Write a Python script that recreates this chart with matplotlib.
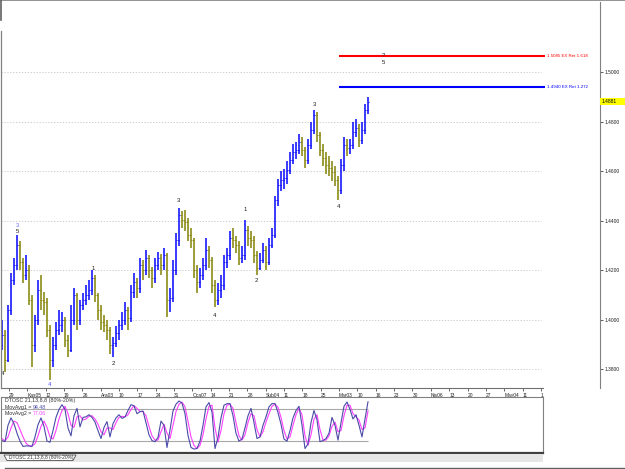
import numpy as np
import matplotlib
matplotlib.use("Agg")
import matplotlib.pyplot as plt
from matplotlib.lines import Line2D
from matplotlib.patches import Rectangle, Polygon

W, H = 625, 469

# price bars (one bar per column, open = previous close)
OPEN_FIRST = 1.3900
CLOSE = [1.3939, 1.3838, 1.4040, 1.4161, 1.4221, 1.4302, 1.4234, 1.4181, 1.4201, 1.4080,
         1.3898, 1.3999, 1.4120, 1.4080, 1.4070, 1.3959, 1.3838, 1.3898, 1.3959, 1.3979,
         1.3999, 1.3918, 1.3878, 1.3999, 1.4100, 1.3999, 1.4060, 1.4080, 1.4100, 1.4120,
         1.4169, 1.4100, 1.4040, 1.3991, 1.3979, 1.3959, 1.3898, 1.3905, 1.3947, 1.3979,
         1.3999, 1.4040, 1.4007, 1.4112, 1.4153, 1.4128, 1.4221, 1.4201, 1.4250, 1.4201,
         1.4169, 1.4221, 1.4250, 1.4221, 1.4262, 1.4080, 1.4090, 1.4201, 1.4322, 1.4423,
         1.4403, 1.4395, 1.4343, 1.4322, 1.4201, 1.4153, 1.4181, 1.4221, 1.4282, 1.4242,
         1.4141, 1.4080, 1.4120, 1.4141, 1.4234, 1.4262, 1.4330, 1.4322, 1.4302, 1.4250,
         1.4262, 1.4363, 1.4330, 1.4322, 1.4262, 1.4209, 1.4242, 1.4282, 1.4234, 1.4302,
         1.4343, 1.4484, 1.4545, 1.4565, 1.4573, 1.4605, 1.4646, 1.4678, 1.4686, 1.4718,
         1.4686, 1.4646, 1.4706, 1.4767, 1.4827, 1.4747, 1.4686, 1.4654, 1.4625, 1.4613,
         1.4597, 1.4565, 1.4524, 1.4625, 1.4706, 1.4694, 1.4706, 1.4759, 1.4775, 1.4726,
         1.4767, 1.4848, 1.4881]
HIGH = [1.3999, 1.3960, 1.4060, 1.4190, 1.4250, 1.4343, 1.4320, 1.4250, 1.4262, 1.4221,
        1.4100, 1.4020, 1.4161, 1.4181, 1.4112, 1.4090, 1.3979, 1.3930, 1.3990, 1.4040,
        1.4030, 1.4010, 1.3940, 1.4060, 1.4130, 1.4110, 1.4080, 1.4110, 1.4140, 1.4161,
        1.4201, 1.4180, 1.4110, 1.4060, 1.4020, 1.4000, 1.3970, 1.3930, 1.3975, 1.4000,
        1.4030, 1.4070, 1.4050, 1.4140, 1.4190, 1.4170, 1.4250, 1.4240, 1.4282, 1.4262,
        1.4215, 1.4250, 1.4275, 1.4265, 1.4290, 1.4270, 1.4130, 1.4240, 1.4350, 1.4452,
        1.4440, 1.4445, 1.4410, 1.4370, 1.4330, 1.4220, 1.4210, 1.4250, 1.4330, 1.4300,
        1.4255, 1.4160, 1.4150, 1.4180, 1.4262, 1.4290, 1.4360, 1.4370, 1.4340, 1.4320,
        1.4300, 1.4403, 1.4380, 1.4360, 1.4340, 1.4280, 1.4270, 1.4310, 1.4300, 1.4330,
        1.4370, 1.4500, 1.4570, 1.4600, 1.4610, 1.4640, 1.4680, 1.4710, 1.4720, 1.4750,
        1.4740, 1.4700, 1.4730, 1.4800, 1.4848, 1.4840, 1.4760, 1.4710, 1.4680, 1.4660,
        1.4640, 1.4620, 1.4580, 1.4650, 1.4740, 1.4730, 1.4730, 1.4800, 1.4810, 1.4790,
        1.4800, 1.4870, 1.4900]
LOW = [1.3878, 1.3789, 1.3830, 1.4020, 1.4140, 1.4200, 1.4200, 1.4150, 1.4160, 1.4060,
       1.3809, 1.3870, 1.3980, 1.4040, 1.4019, 1.3930, 1.3757, 1.3810, 1.3880, 1.3939,
       1.3950, 1.3890, 1.3850, 1.3870, 1.3980, 1.3960, 1.3980, 1.4040, 1.4060, 1.4080,
       1.4100, 1.4070, 1.4000, 1.3960, 1.3950, 1.3920, 1.3860, 1.3850, 1.3890, 1.3920,
       1.3960, 1.3980, 1.3960, 1.3990, 1.4090, 1.4090, 1.4110, 1.4160, 1.4180, 1.4170,
       1.4130, 1.4150, 1.4200, 1.4180, 1.4200, 1.4011, 1.4030, 1.4070, 1.4180, 1.4300,
       1.4370, 1.4360, 1.4320, 1.4290, 1.4170, 1.4110, 1.4130, 1.4160, 1.4200, 1.4210,
       1.4110, 1.4052, 1.4060, 1.4090, 1.4120, 1.4210, 1.4240, 1.4290, 1.4270, 1.4220,
       1.4230, 1.4240, 1.4300, 1.4290, 1.4230, 1.4181, 1.4200, 1.4230, 1.4200, 1.4220,
       1.4290, 1.4330, 1.4460, 1.4520, 1.4530, 1.4550, 1.4590, 1.4630, 1.4650, 1.4670,
       1.4660, 1.4613, 1.4630, 1.4690, 1.4750, 1.4720, 1.4660, 1.4620, 1.4590, 1.4580,
       1.4560, 1.4540, 1.4484, 1.4510, 1.4600, 1.4660, 1.4670, 1.4690, 1.4740, 1.4700,
       1.4710, 1.4750, 1.4830]

# DTOSC oscillator and its average
OSC = [21, 19, 50, 64, 53, 35, 20, 10, 11, 11,
       10, 28, 51, 64, 48, 20, 18, 40, 65, 80,
       89, 80, 45, 30, 68, 82, 47, 65, 66, 70,
       65, 56, 40, 25, 46, 57, 28, 53, 64, 70,
       63, 66, 78, 89, 87, 72, 76, 77, 55, 32,
       21, 19, 27, 58, 50, 8, 41, 77, 90, 96,
       92, 72, 31, 8, 5, 6, 20, 50, 85, 93,
       75, 6, 27, 64, 88, 91, 91, 68, 35, 20,
       24, 45, 68, 82, 55, 25, 28, 50, 66, 85,
       91, 91, 74, 52, 24, 20, 40, 64, 78, 86,
       50, 6, 15, 55, 78, 60, 19, 21, 25, 35,
       65, 50, 22, 55, 86, 94, 80, 62, 70, 50,
       28, 62, 94.48]
OSC_AVG = [25, 20, 28, 45, 58, 55, 42, 28, 16, 11,
           11, 15, 30, 48, 58, 46, 28, 24, 40, 62,
           78, 86, 72, 50, 46, 66, 68, 60, 62, 67,
           68, 62, 52, 38, 32, 45, 45, 42, 55, 65,
           67, 66, 70, 80, 87, 82, 76, 76, 68, 48,
           30, 22, 22, 38, 52, 35, 25, 50, 76, 90,
           94, 85, 58, 28, 12, 6, 12, 32, 62, 86,
           88, 45, 18, 40, 72, 88, 90, 82, 55, 30,
           22, 32, 55, 72, 68, 42, 28, 38, 56, 72,
           86, 90, 84, 65, 40, 24, 28, 50, 70, 82,
           70, 30, 12, 32, 62, 70, 42, 22, 22, 30,
           48, 56, 38, 40, 68, 88, 88, 72, 66, 60,
           42, 45, 77.06]
OSC_BANDS = [80, 20]

PRICE_TICKS = [1.38, 1.40, 1.42, 1.44, 1.46, 1.48, 1.50]
DATE_LABELS = ["29", "Kas05", "12", "19", "26", "Ara03", "10", "17", "24", "31",
               "Oca07", "14", "21", "28", "Şub04", "11", "18", "25", "Mar03", "10",
               "16", "23", "30", "Nis06", "13", "20", "27", "May04", "11", "1"]

TARGET_LEVELS = [1.5066, 1.4940]
TARGET_LABELS = ["1.5085 EX Ret 1.618", "1.4940 EX Ret 1.272"]
TARGET_COLORS = ["#ff0000", "#0000ff"]

WAVE_TEXT = ["4", "3", "5", "4", "1", "2", "3", "4", "1", "2", "3", "4", "?", "5"]
WAVE_BAR = [0.3, 5.3, 5.3, 16.0, 30.3, 37.0, 58.7, 70.7, 81.0, 84.7, 104.3, 112.3, 127.0, 127.0]
WAVE_PRICE = [1.3785, 1.4383, 1.4355, 1.3740, 1.4209, 1.3822, 1.4484, 1.4019,
              1.4444, 1.4157, 1.4868, 1.4456, 1.5066, 1.5038]
WAVE_COLOR = ["#202020", "#7070ff", "#202020", "#5050ff"] + ["#202020"] * 10

UP, DOWN = "#0000ff", "#808000"
FONT = "Liberation Sans"


def fx(px):
    return px / W


def fy(py):
    return 1 - py / H


def main():
    fig = plt.figure(figsize=(W / 100, H / 100), dpi=100, facecolor="white")

    close = np.array(CLOSE)
    high = np.array(HIGH)
    low = np.array(LOW)
    opn = np.concatenate([[OPEN_FIRST], close[:-1]])
    x = np.arange(len(close))
    cols = [UP if c >= o else DOWN for o, c in zip(opn, close)]

    # main price pane: bars step 3 px, first bar at px 2
    ax = fig.add_axes([fx(1), fy(388), fx(599), 386 / H])
    ax.set_xlim((1 - 2) / 3, (600 - 2) / 3)
    ax.set_ylim(1.5 - (388 - 72.3) / 2475, 1.5 + 70.3 / 2475)
    ax.set_facecolor("white")

    xend = (541 - 2) / 3
    ax.hlines(PRICE_TICKS, ax.get_xlim()[0], xend, colors="#c4c4c4",
              linestyles=(0, (1.5, 2)), linewidth=0.6, zorder=1)

    ax.vlines(x, low, high, colors=cols, linewidth=1.2, alpha=0.9, zorder=3)
    ax.hlines(opn, x - 0.45, x, colors=cols, linewidth=0.7, zorder=3)
    ax.hlines(close, x, x + 0.45, colors=cols, linewidth=0.7, zorder=3)

    for lvl, lab, c in zip(TARGET_LEVELS, TARGET_LABELS, TARGET_COLORS):
        ax.hlines(lvl, (339 - 2) / 3, (545 - 2) / 3, colors=c, linewidth=1.5, zorder=4)
        ax.text((547 - 2) / 3, lvl, lab, color=c, fontsize=3.2, family=FONT,
                ha="left", va="center")

    for t, b, p, c in zip(WAVE_TEXT, WAVE_BAR, WAVE_PRICE, WAVE_COLOR):
        ax.text(b, p, t, color=c, fontsize=4.3, family=FONT, ha="center",
                va="center", zorder=5)

    # last price tag
    last = CLOSE[-1]
    ax.add_patch(Rectangle((1.0, last - 0.0014), 25 / 599, 0.0028,
                           transform=ax.get_yaxis_transform(), clip_on=False,
                           facecolor="#ffff00", edgecolor="none", zorder=6))
    ax.text(1.003, last, f"{last:.4f}", transform=ax.get_yaxis_transform(),
            fontsize=3.5, family=FONT, ha="left", va="center", zorder=7)

    for s in ["top", "left"]:
        ax.spines[s].set_visible(False)
    ax.spines["right"].set_color("#808080")
    ax.spines["bottom"].set_color("#707070")
    ax.spines["bottom"].set_bounds(ax.get_xlim()[0], (543 - 2) / 3)

    ax.yaxis.tick_right()
    ax.set_yticks(PRICE_TICKS)
    ax.set_yticklabels([f"{v:.4f}" for v in PRICE_TICKS])
    ax.tick_params(axis="y", length=2, width=0.6, pad=1, labelsize=3.5,
                   colors="#404040", labelcolor="#202020")

    tick0, step = (9 - 2) / 3, 18.34 / 3
    ax.set_xticks([tick0 + step * k for k in range(len(DATE_LABELS))])
    ax.set_xticklabels(DATE_LABELS, ha="left")
    ax.tick_params(axis="x", length=2, width=0.6, pad=1.5, labelsize=3.5,
                   colors="#505050", labelcolor="#202020")
    for lab in ax.get_xticklabels() + ax.get_yticklabels():
        lab.set_family(FONT)

    # oscillator pane
    ox = fig.add_axes([fx(1), fy(453.3), fx(542), 56 / H])
    ox.set_xlim((1 - 2) / 3, (543 - 2) / 3)
    ox.set_ylim(-3, 103)
    ox.hlines(OSC_BANDS, ox.get_xlim()[0], x[-1], colors="#a8a8a8", linewidth=0.8)
    ox.plot(x, OSC_AVG, color="#ff40ff", linewidth=0.8)
    ox.plot(x, OSC, color="#4a4aa8", linewidth=0.8)
    ox.set_xticks([])
    ox.set_yticks([])
    for s in ox.spines.values():
        s.set_color("#808080")
        s.set_linewidth(0.8)
    ox.spines["bottom"].set_color("#404040")
    ox.spines["bottom"].set_linewidth(1.6)

    kw = dict(transform=ox.transAxes, fontsize=3.8, family=FONT, va="center", ha="left")
    ox.text(0.0074, 0.934, "DTOSC 21,13,8,8 (80%-20%)", color="#303030", **kw)
    ox.text(0.0074, 0.818, "MovAvg1 =", color="#303030", **kw)
    ox.text(0.059, 0.818, f"{OSC[-1]:.2f}", color="#4a4aa8", **kw)
    ox.text(0.0074, 0.702, "MovAvg2 =", color="#303030", **kw)
    ox.text(0.059, 0.702, f"{OSC_AVG[-1]:.2f}", color="#ff40ff", **kw)

    # tab strip under the oscillator
    fig.add_artist(Rectangle((fx(0), fy(462)), fx(543), 8.5 / H, transform=fig.transFigure,
                             facecolor="#e6e6e6", edgecolor="none"))
    tab = [(fx(4), fy(455)), (fx(76), fy(455)), (fx(73), fy(460.5)), (fx(7), fy(460.5))]
    fig.add_artist(Polygon(tab, closed=True, transform=fig.transFigure,
                           facecolor="white", edgecolor="#505050", linewidth=0.6))
    fig.text(fx(9), fy(457.8), "DTOSC 21,13,8,8 (80%-20%)", fontsize=3.5,
             family=FONT, color="#303030", va="center", ha="left")

    # window frame
    grey = "#808080"
    fig.add_artist(Line2D([0, 1], [fy(0.5), fy(0.5)], color=grey, linewidth=1.2))
    fig.add_artist(Line2D([fx(0.6), fx(0.6)], [fy(0), fy(20)], color="#606060", linewidth=1.2))
    fig.add_artist(Line2D([fx(0.6), fx(0.6)], [fy(31), fy(388)], color=grey, linewidth=0.9))
    fig.add_artist(Line2D([fx(5), 1], [fy(468), fy(468)], color="#606060", linewidth=1.0))

    fig.savefig("out.png", dpi=100, facecolor="white")


if __name__ == "__main__":
    main()
